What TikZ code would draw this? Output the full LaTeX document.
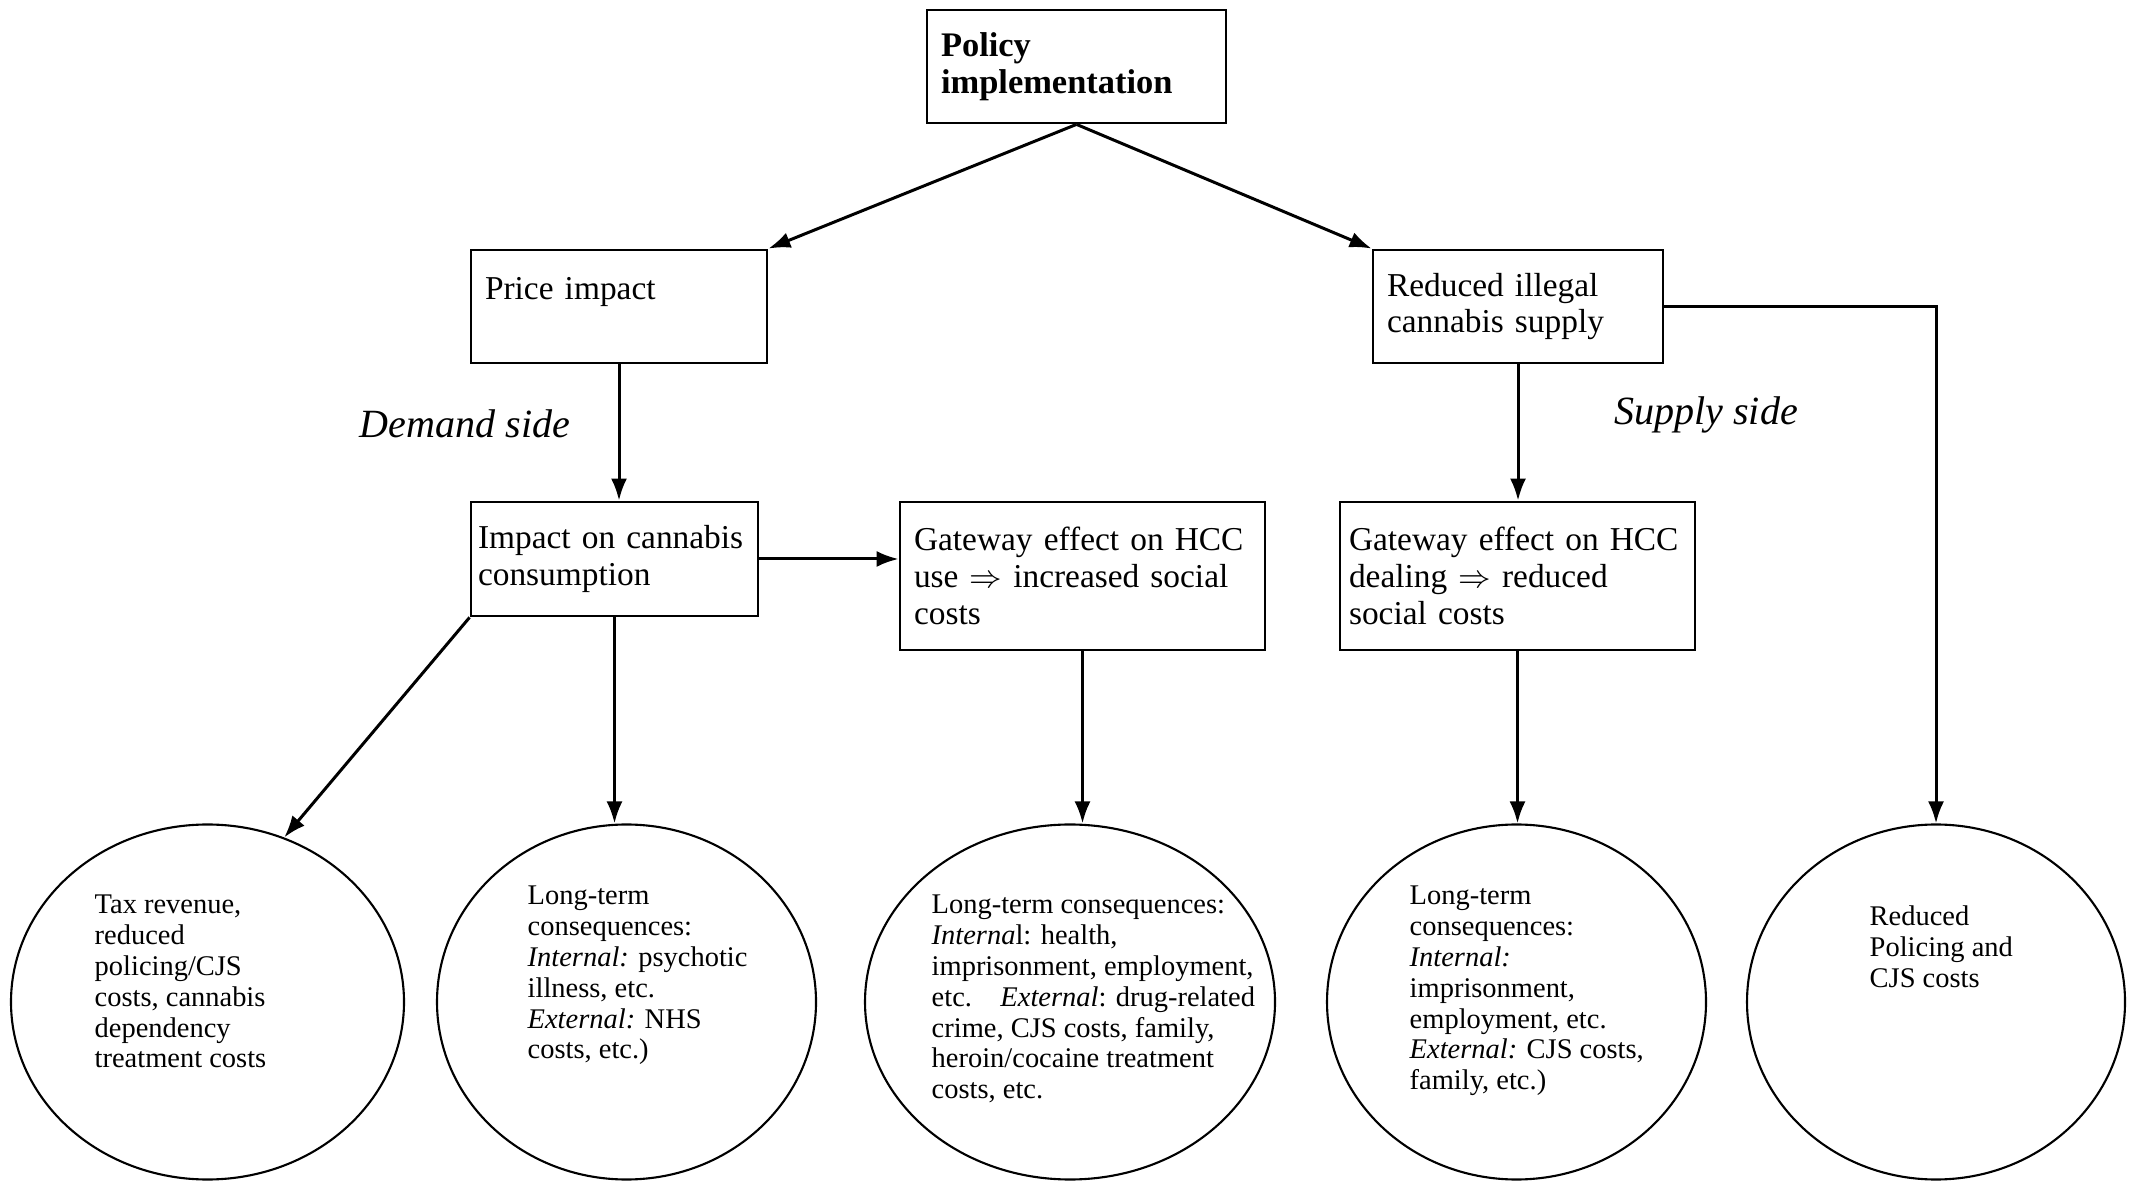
\documentclass[tikz,border=0pt]{standalone}
\usepackage{fontspec}
\setmainfont{Liberation Serif}
\usetikzlibrary{shapes.geometric,arrows.meta,positioning,calc}

\begin{document}
\begin{tikzpicture}[
    box/.style={draw, line width=0.8pt, align=left, inner xsep=0.14cm, minimum height=1.13cm, font=\fontsize{9.5}{10.5}\selectfont},
    oval/.style={draw, ellipse, line width=0.6pt, minimum height=3.55cm},
    ovaltext/.style={anchor=north west, align=left, inner sep=0pt, font=\fontsize{8.1}{8.8}\selectfont},
    side/.style={font=\fontsize{11.4}{12}\selectfont\itshape},
    link/.style={-{Latex[length=0.22cm,width=0.16cm]}, line width=0.85pt}
]
    \useasboundingbox (0,0) rectangle (21.40,11.81);

    % Top of the chain
    \node[box, text width=2.71cm, font=\fontsize{9.8}{10.5}\selectfont\bfseries] (policy) at (10.765,11.145) {Policy\\implementation};

    % Second row: demand and supply
    \node[box, text width=2.68cm] (price) at (6.19,8.745) {Price impact\\\mbox{}};
    \node[box, text width=2.62cm] (supply) at (15.18,8.745) {Reduced illegal\\cannabis supply};

    \node[side] (demandlbl) at (4.65,7.57) {Demand side};
    \node[side] (supplylbl) at (17.06,7.66) {Supply side};

    % Third row
    \node[box, text width=2.73cm, inner xsep=0.07cm, minimum height=1.14cm] (consumption) at (6.145,6.22) {Impact on cannabis\\consumption};
    \node[box, text width=3.37cm, minimum height=1.48cm] (gateuse) at (10.825,6.05) {Gateway effect on HCC\\use $\Rightarrow$\ increased social\\costs};
    \node[box, text width=3.37cm, inner xsep=0.09cm, minimum height=1.48cm] (gatedeal) at (15.175,6.05) {Gateway effect on HCC\\dealing $\Rightarrow$ reduced\\social costs};

    % Outcomes
    \node[oval, minimum width=3.93cm] (tax) at (2.075,1.79) {};
    \node[oval, minimum width=3.79cm] (health) at (6.265,1.79) {};
    \node[oval, minimum width=4.10cm] (usecost) at (10.70,1.79) {};
    \node[oval, minimum width=3.79cm] (dealcost) at (15.165,1.79) {};
    \node[oval, minimum width=3.78cm] (policing) at (19.36,1.79) {};

    \node[ovaltext] (taxtext) at (0.94,2.87) {Tax revenue,\\reduced\\policing/CJS\\costs, cannabis\\dependency\\treatment costs};
    \node[ovaltext] (healthtext) at (5.27,2.96) {Long-term\\consequences:\\\textit{Internal:} psychotic\\illness, etc.\\\textit{External:} NHS\\costs, etc.)};
    \node[ovaltext] (usecosttext) at (9.31,2.87) {Long-term consequences:\\\textit{Interna}l: health,\\imprisonment, employment,\\etc.\quad\textit{External}: drug-related\\crime, CJS costs, family,\\heroin/cocaine treatment\\costs, etc.};
    \node[ovaltext] (dealcosttext) at (14.09,2.96) {Long-term\\consequences:\\\textit{Internal:}\\imprisonment,\\employment, etc.\\\textit{External:} CJS costs,\\family, etc.)};
    \node[ovaltext] (policingtext) at (18.69,2.76) {Reduced\\Policing and\\CJS costs};

    % Connectors
    \draw[link] (policy.south) -- (price.north east);
    \draw[link] (policy.south) -- (supply.north west);
    \draw[link] (price.south) -- (price.south |- consumption.north);
    \draw[link] (consumption.east) -- (consumption.east -| gateuse.west);
    \draw[link] (consumption.south west) -- (tax.65);
    \draw[link] (consumption.south) -- (consumption.south |- health.north);
    \draw[link] (gateuse.south) -- (gateuse.south |- usecost.north);
    \draw[link] (supply.south) -- (supply.south |- gatedeal.north);
    \draw[link] (gatedeal.south) -- (gatedeal.south |- dealcost.north);
    \draw[link] (supply.east) -| (policing.north);
\end{tikzpicture}
\end{document}
